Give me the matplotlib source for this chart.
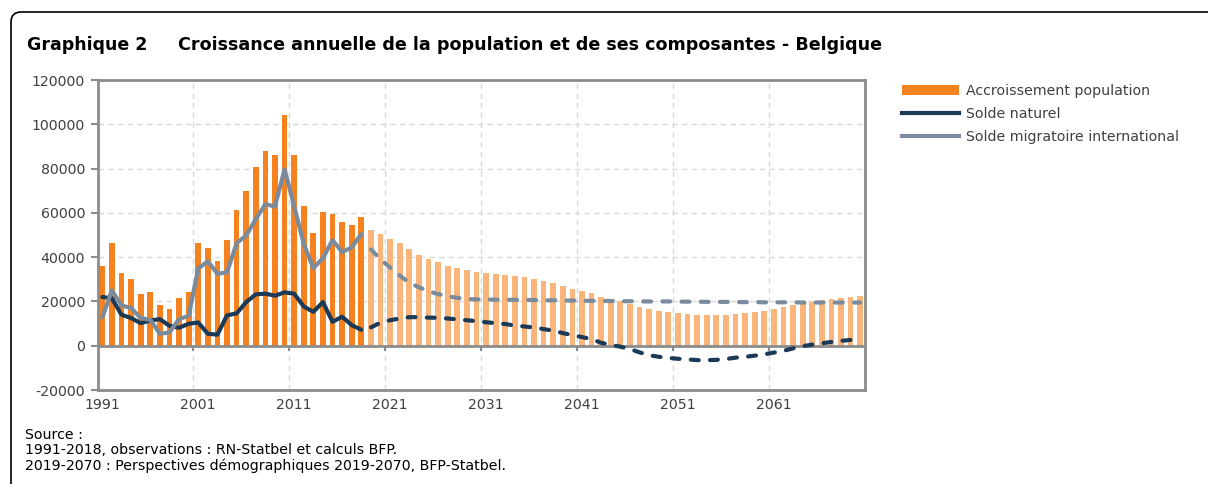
import matplotlib
matplotlib.use("Agg")
import matplotlib.pyplot as plt
from matplotlib.patches import FancyBboxPatch, Patch
from matplotlib.lines import Line2D
import numpy as np

plt.rcParams["font.family"] = ["DejaVu Sans"]

# ---- données ----
years_obs = list(range(1991, 2019))
years_proj = list(range(2019, 2071))

growth_obs = [35800, 46300, 32800, 30100, 23500, 24400, 18600, 16800, 21400, 24400,
              46500, 44100, 38400, 47700, 61200, 69900, 80900, 88100, 86000, 104400,
              86000, 63000, 51000, 60300, 59400, 55800, 54600, 58100]
growth_proj = [52200, 50500, 48400, 46200, 43600, 40800, 39100, 37600, 35900, 34900,
               34000, 33200, 32800, 32300, 31900, 31600, 31000, 30100, 29200, 28100,
               26900, 25700, 24800, 23600, 22200, 20900, 20000, 18800, 17700, 16700,
               15900, 15200, 14700, 14300, 14000, 13800, 13800, 14000, 14400, 14900,
               15300, 15900, 16500, 17300, 18200, 19100, 19900, 20600, 21100, 21500,
               22000, 22300]

natural_obs = [22000, 21400, 14000, 12500, 10200, 11400, 12000, 9000, 8100, 9900,
               10500, 5400, 5000, 13700, 14600, 19700, 23200, 23500, 22600, 24100,
               23500, 17700, 15300, 19700, 10800, 13100, 9300, 7200]
natural_proj = [8300, 10400, 11500, 12300, 12900, 12900, 12700, 12600, 12300, 11900,
                11500, 11100, 10600, 10200, 9800, 9100, 8700, 8200, 7500, 6800,
                5700, 4800, 3900, 3000, 1300, 400, -450, -1500, -3000, -4300,
                -5000, -5500, -5900, -6200, -6500, -6500, -6400, -6000, -5400, -5000,
                -4500, -3900, -3100, -2300, -1200, -200, 500, 1100, 1700, 2200,
                2600, 2900]

migration_obs = [12800, 25000, 18200, 17000, 12500, 11700, 5400, 6000, 12000, 13500,
                 34900, 38100, 32500, 33100, 46300, 49800, 57200, 63900, 62900, 79700,
                 63000, 46000, 35000, 39600, 47700, 42300, 44400, 50400]
migration_proj = [43500, 39000, 35300, 31700, 28400, 26400, 24600, 23300, 22400, 21600,
                  21100, 20900, 20900, 20800, 20800, 20700, 20700, 20600, 20500, 20500,
                  20400, 20400, 20300, 20300, 20200, 20200, 20100, 20100, 20000, 20000,
                  20000, 20000, 19900, 19900, 19900, 19800, 19800, 19800, 19700, 19700,
                  19700, 19600, 19600, 19600, 19600, 19500, 19500, 19500, 19500, 19500,
                  19500, 19500]

tick_years = list(range(1991, 2071, 10))
y_ticks = list(range(-20000, 120001, 20000))

# ---- style ----
ORANGE = "#F5821F"
ORANGE_LIGHT = "#FAB57B"
NAVY = "#1B3A57"
GREYBLUE = "#7A8B9E"
AXIS = "#8C8C8C"
GRID = "#D9D9D9"
TXT = "#404040"
DASH = (1.9, 2.7)
FS = 10.2

fig = plt.figure(figsize=(12.08, 4.84), dpi=100)
ax = fig.add_axes([97.5 / 1208, 1 - 390 / 484, (865 - 97.5) / 1208, (390 - 80) / 484])

x0 = years_obs[0]
xo = np.array(years_obs) - x0
xp = np.array(years_proj) - x0

# grille
for y in y_ticks[1:-1]:
    if y != 0:
        ax.axhline(y, color=GRID, lw=1, ls=(0, (4, 3)), zorder=0)
for t in tick_years[1:]:
    ax.axvline(t - x0 - 0.5, color=GRID, lw=1, ls=(0, (4, 3)), zorder=0)

ax.bar(xo, growth_obs, width=0.6, color=ORANGE, zorder=2)
ax.bar(xp, growth_proj, width=0.6, color=ORANGE_LIGHT, zorder=2)

# axe horizontal à zéro
ax.axhline(0, color=AXIS, lw=2, zorder=3)
ax.vlines([t - x0 - 0.5 for t in tick_years[1:]], -2300, 0, color=AXIS, lw=1.5, zorder=3)

ax.plot(xo, natural_obs, color=NAVY, lw=3, solid_capstyle="round", zorder=4)
ax.plot(xp, natural_proj, color=NAVY, lw=3, dashes=DASH, dash_capstyle="round", zorder=4)
ax.plot(xo, migration_obs, color=GREYBLUE, lw=3, solid_capstyle="round", zorder=4)
ax.plot(xp, migration_proj, color=GREYBLUE, lw=3, dashes=DASH, dash_capstyle="round", zorder=4)

ax.set_xlim(-0.5, len(years_obs) + len(years_proj) - 0.5)
ax.set_ylim(-20000, 120000)
ax.set_yticks(y_ticks)
ax.set_yticklabels([str(v) for v in y_ticks], fontsize=FS, color=TXT)
ax.set_xticks([t - x0 for t in tick_years])
ax.set_xticklabels([str(t) for t in tick_years], fontsize=FS, color=TXT)
ax.tick_params(axis="x", length=0, pad=6)
ax.tick_params(axis="y", length=5, width=1.5, color=AXIS, pad=4)
for s in ax.spines.values():
    s.set_color(AXIS)
    s.set_linewidth(2)

# légende
handles = [Patch(facecolor=ORANGE, edgecolor="none"),
           Line2D([], [], color=NAVY, lw=3),
           Line2D([], [], color=GREYBLUE, lw=3)]
labels = ["Accroissement population", "Solde naturel", "Solde migratoire international"]
fig.legend(handles, labels, loc="upper left", bbox_to_anchor=(902 / 1208, 1 - 84 / 484),
           frameon=False, fontsize=FS, handlelength=4.0, handletextpad=0.5,
           labelspacing=0.62, labelcolor=TXT, borderaxespad=0, borderpad=0)

# titre
fig.text(27 / 1208, 1 - 45 / 484, "Graphique 2", fontsize=12.5, fontweight="bold",
         va="center", ha="left", color="black")
fig.text(178 / 1208, 1 - 45 / 484,
         "Croissance annuelle de la population et de ses composantes - Belgique",
         fontsize=12.6, fontweight="bold", va="center", ha="left", color="black")

# source
src = ["Source :",
       "1991-2018, observations : RN-Statbel et calculs BFP.",
       "2019-2070 : Perspectives démographiques 2019-2070, BFP-Statbel."]
for i, line in enumerate(src):
    fig.text(25 / 1208, 1 - (435 + i * 15.5) / 484, line, fontsize=FS,
             va="center", ha="left", color="black")

# cadre arrondi
frame = FancyBboxPatch((11, -40), 1260, 484 - 12 + 40,
                       boxstyle="round,pad=0,rounding_size=10",
                       transform=None, fill=False, edgecolor="black", lw=1.2)
fig.patches.append(frame)

fig.savefig("out.png", dpi=100)
